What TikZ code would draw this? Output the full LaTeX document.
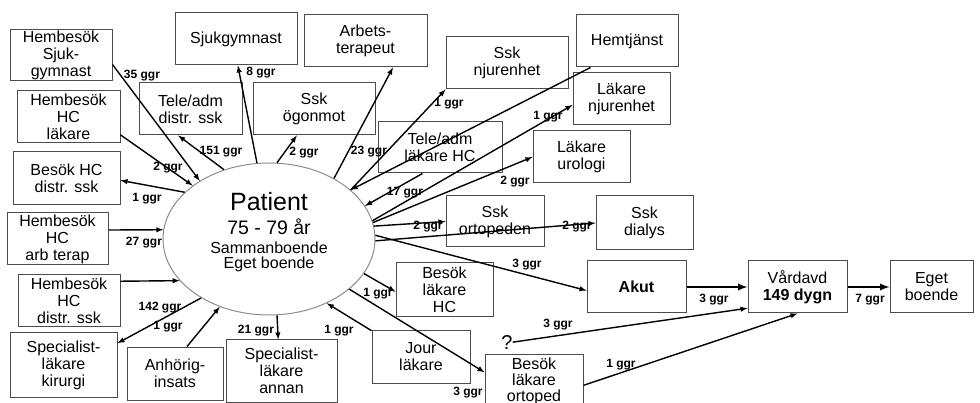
\documentclass[tikz,border=0pt]{standalone}
\usepackage{fontspec}
\setmainfont{Liberation Sans}
\usetikzlibrary{shapes.geometric}
\begin{document}
\begin{tikzpicture}[x=1pt,y=-1pt,
box/.style={%
line width=1pt,
draw=black!70,
fill=white,
anchor=center,
align=center,
inner sep=0pt,
font=\fontsize{16}{17}\selectfont,
},
lbl/.style={inner sep=0pt,font=\fontsize{12}{12}\selectfont\bfseries},
arw/.style={-latex,line width=1.4pt},
tarw/.style={-latex,line width=2.2pt}
]
\useasboundingbox(0,0)rectangle(980,403);
\clip(0,0)rectangle(980,403);
\node[box,minimum width=102,minimum height=51]at(61,55.5)(hsg){Hembesök\\Sjuk-\\gymnast};
\node[box,minimum width=122,minimum height=52]at(236,39)(sg){Sjukgymnast};
\node[box,minimum width=103,minimum height=52]at(68.5,117)(hhl){Hembesök\\HC\\läkare};
\node[box,minimum width=103,minimum height=52]at(190.5,109)(tds){Tele/adm\\distr. ssk};
\node[box,minimum width=122,minimum height=52]at(314,109)(sog){Ssk\\ögonmot};
\node[box,minimum width=107,minimum height=53]at(66.5,178.5)(bhd){Besök HC\\distr. ssk};
\node[box,minimum width=101,minimum height=52]at(57.5,239)(hat){Hembesök\\HC\\arb terap};
\node[box,minimum width=102,minimum height=52]at(69,301)(hds){Hembesök\\HC\\distr. ssk};
\node[box,minimum width=107,minimum height=64]at(63.5,365)(slk){Specialist-\\läkare\\kirurgi};
\node[box,minimum width=96,minimum height=53]at(175,373.5)(anh){Anhörig-\\insats};
\node[box,minimum width=111,minimum height=62]at(281.5,371)(sla){Specialist-\\läkare\\annan};
\node[box,minimum width=123,minimum height=52]at(365.5,41)(arb){Arbets-\\terapeut};
\node[box,minimum width=122,minimum height=52]at(507,63)(snj){Ssk\\njurenhet};
\node[box,minimum width=102,minimum height=52]at(627,41)(hem){Hemtjänst};
\node[box,minimum width=97,minimum height=52]at(621.5,99)(lnj){Läkare\\njurenhet};
\node[box,minimum width=97,minimum height=52]at(581.5,157)(lur){Läkare\\urologi};
\node[box,minimum width=124,minimum height=51]at(440,147.5)(tlh){Tele/adm\\läkare HC};
\node[box,minimum width=98,minimum height=51]at(495,221.5)(sor){Ssk\\ortopeden};
\node[box,minimum width=97,minimum height=54]at(644.5,223)(sdi){Ssk\\dialys};
\node[box,minimum width=97,minimum height=54]at(444.5,290)(blh){Besök\\läkare\\HC};
\node[box,minimum width=98,minimum height=52]at(421,357)(jour){Jour\\läkare};
\node[box,minimum width=98,minimum height=53,font=\fontsize{16}{16}\selectfont]at(534,381)(blo){Besök\\läkare\\ortoped};
\node[box,minimum width=99,minimum height=52,font=\fontsize{16}{17}\selectfont\bfseries]at(636.5,287)(akut){Akut};
\node[box,minimum width=99,minimum height=52]at(797.5,287)(vard){Vårdavd\\\textbf{149 dygn}};
\node[box,minimum width=83,minimum height=52]at(931.5,287)(egb){Eget\\boende};
\node[inner sep=0pt,font=\fontsize{20}{20}\selectfont]at(507,343)(q){?};
\node[ellipse,draw=black!45,line width=1pt,fill=white,minimum width=212,minimum height=152,inner sep=0pt]at(269,239)(pat){};
\node[align=center,inner sep=0pt,font=\fontsize{16}{15}\selectfont]at(269,232)(ptxt){{\fontsize{25}{25}\selectfont Patient}\\[7pt]{\fontsize{19.5}{20}\selectfont 75 - 79 år}\\[4pt]Sammanboende\\Eget boende};
\draw[arw](hsg.-10)--(pat.140);
\draw[arw](hhl.-19)--(pat.145);
\draw[arw](pat.151)--(bhd.-2);
\draw[arw](pat.123)--(tds.-115);
\draw[arw](pat.99)--(sg.-86);
\draw[arw](pat.84)--(sog.-123);
\draw[arw](pat.43)--(arb.-44);
\draw[arw](pat.31)--(snj.south west);
\draw[arw](hem.-144)--(pat.31);
\draw[arw](tlh.-124)--(pat.19);
\draw[arw](pat.10)--(lnj.-173);
\draw[arw](pat.9)--(lur.west);
\draw[arw](pat.7)--(sor.west);
\draw[arw](pat.-1)--(sdi.west);
\draw[arw](pat.2)--(akut.184);
\draw[arw](pat.-20)--(blh.182);
\draw[arw](pat.-32)--(blo.170);
\draw[arw](jour.152)--(pat.-48);
\draw[arw](pat.-84)--(sla.96);
\draw[arw](anh.66)--(pat.-126);
\draw[arw](pat.-139)--(slk.22);
\draw[arw](hds.21)--(pat.205);
\draw[arw](hat.10)--(pat.175);
\draw[tarw](akut)--(vard);
\draw[tarw](vard)--(egb);
\draw[arw](q)--(vard.203);
\draw[arw](blo.-5)--(vard.south);
\node[lbl]at(142,76)(l35){35 ggr};
\node[lbl]at(261,73)(l8){8 ggr};
\node[lbl]at(221,152)(l151){151 ggr};
\node[lbl]at(168,168)(l2a){2 ggr};
\node[lbl]at(147,199)(l1a){1 ggr};
\node[lbl]at(304,153)(l2b){2 ggr};
\node[lbl]at(369,152)(l23){23 ggr};
\node[lbl]at(449,104)(l1b){1 ggr};
\node[lbl]at(548,117)(l1c){1 ggr};
\node[lbl]at(405,193)(l17){17 ggr};
\node[lbl]at(515,182)(l2c){2 ggr};
\node[lbl]at(428,227)(l2d){2 ggr};
\node[lbl]at(577,227)(l2e){2 ggr};
\node[lbl]at(527,265)(l3a){3 ggr};
\node[lbl]at(378,294)(l1d){1 ggr};
\node[lbl]at(256,331)(l21){21 ggr};
\node[lbl]at(339,331)(l1e){1 ggr};
\node[lbl]at(468,393)(l3b){3 ggr};
\node[lbl]at(558,325)(l3c){3 ggr};
\node[lbl]at(621,365)(l1f){1 ggr};
\node[lbl]at(714,300)(l3d){3 ggr};
\node[lbl]at(870,300)(l7){7 ggr};
\node[lbl]at(144,243)(l27){27 ggr};
\node[lbl]at(160,308)(l142){142 ggr};
\node[lbl]at(168,327)(l1g){1 ggr};
\end{tikzpicture}
\end{document}
